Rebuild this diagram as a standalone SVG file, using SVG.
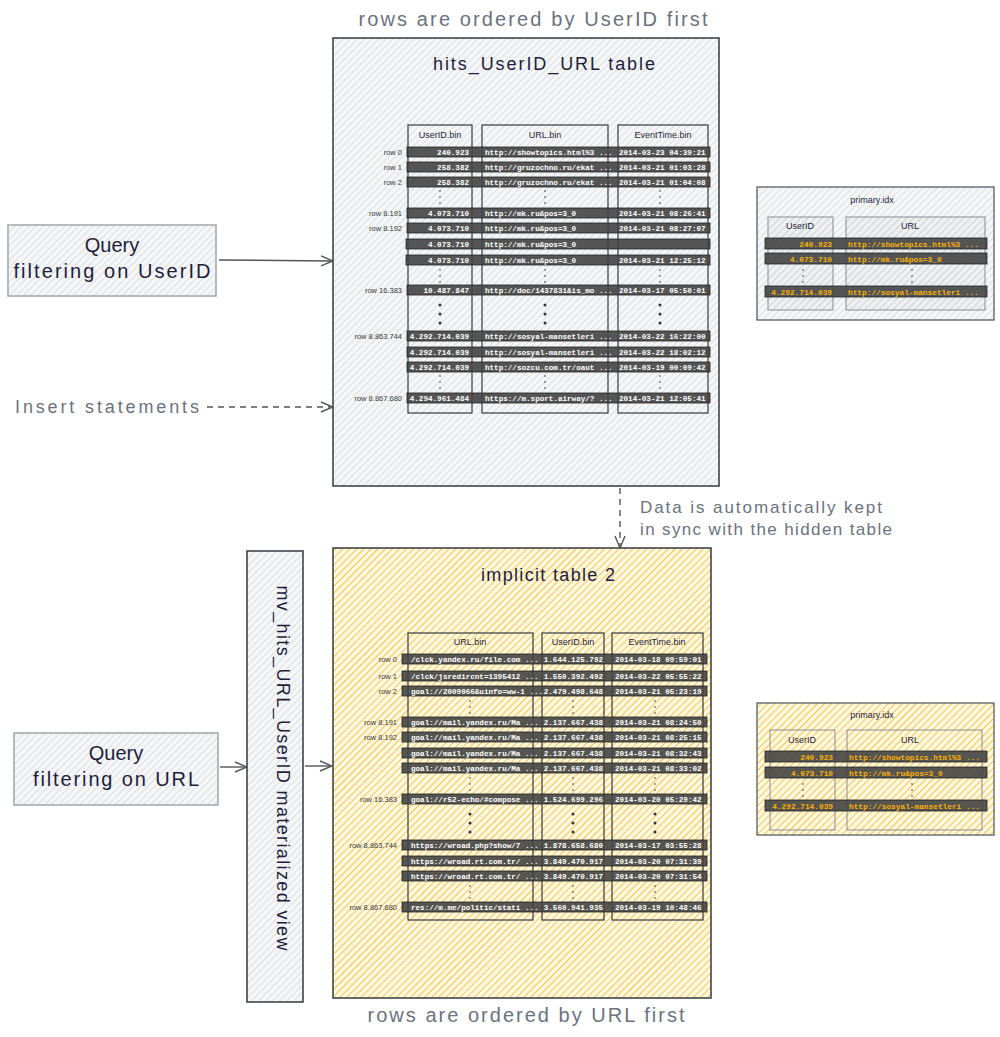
<svg xmlns="http://www.w3.org/2000/svg" width="1000" height="1037" viewBox="0 0 1000 1037">
<defs>
<pattern id="hg" width="5" height="5" patternUnits="userSpaceOnUse" patternTransform="rotate(45)">
<rect width="5" height="5" fill="#f5f6f7"/>
<line x1="0" y1="0" x2="0" y2="5" stroke="#c3c8ce" stroke-width="1"/>
</pattern>
<pattern id="hg2" width="5" height="5" patternUnits="userSpaceOnUse" patternTransform="rotate(45)">
<rect width="5" height="5" fill="#eef0f2"/>
<line x1="0" y1="0" x2="0" y2="5" stroke="#aeb4bb" stroke-width="1"/>
</pattern>
<pattern id="hy" width="5" height="5" patternUnits="userSpaceOnUse" patternTransform="rotate(45)">
<rect width="5" height="5" fill="#fff8e0"/>
<line x1="0" y1="0" x2="0" y2="5" stroke="#f5c23d" stroke-width="1.8"/>
</pattern>
<marker id="ah" markerWidth="14" markerHeight="12" refX="13" refY="6" orient="auto" markerUnits="userSpaceOnUse">
<path d="M1,1 L13,6 L1,11" fill="none" stroke="#555" stroke-width="1.4"/>
</marker>
</defs>
<style>
.hand{font-family:"Liberation Sans","DejaVu Sans",sans-serif}
.navy{fill:#1e1e3c}
.gray{fill:#6b7280}
.box{stroke:#343a40;stroke-width:1.5}
.col{fill:url(#hg);stroke:#343a40;stroke-width:1.2}
.ycol{fill:url(#hy);stroke:#343a40;stroke-width:1.2}
.bar{fill:#444;fill-opacity:0.9;stroke:#222;stroke-width:0.8}
.bt{font-family:"Liberation Mono","DejaVu Sans Mono",monospace;font-size:7.6px;font-weight:bold;fill:#ffffff}
.ot{font-family:"Liberation Mono","DejaVu Sans Mono",monospace;font-size:7.8px;font-weight:bold;fill:#fab005}
.rl{font-family:"Liberation Sans",sans-serif;font-size:7.5px;fill:#343a40}
.hd{font-family:"Liberation Sans",sans-serif;font-size:9px;fill:#1e1e3c}
.dot{fill:#333}
.conn{stroke:#555;stroke-width:1.4;fill:none}
</style>

<text class="hand gray" x="533" y="26" font-size="20" text-anchor="middle" textLength="349">rows are ordered by UserID first</text>
<text class="hand gray" x="526" y="1022" font-size="20" text-anchor="middle" textLength="317">rows are ordered by URL first</text>

<g id="query-userid">
<rect x="8" y="225" width="208" height="71" fill="url(#hg)" stroke="#a0a6ad" stroke-width="1.5"/>
<text class="hand navy" x="112" y="252" font-size="20" text-anchor="middle">Query</text>
<text class="hand navy" x="112" y="278" font-size="20" text-anchor="middle" textLength="197">filtering on UserID</text>
</g>

<g id="insert-label">
<text class="hand gray" x="15" y="413" font-size="18" textLength="184">Insert statements</text>
</g>

<g id="query-url">
<rect x="14" y="733" width="204" height="72" fill="url(#hg)" stroke="#a0a6ad" stroke-width="1.5"/>
<text class="hand navy" x="116" y="760" font-size="20" text-anchor="middle">Query</text>
<text class="hand navy" x="116" y="786" font-size="20" text-anchor="middle" textLength="166">filtering on URL</text>
</g>

<g id="mv">
<rect x="247" y="551" width="56" height="451" fill="url(#hg)" class="box"/>
<text class="hand navy" x="275" y="768" font-size="18" text-anchor="middle" textLength="365" transform="rotate(90 275 768)" dy="-2">mv_hits_URL_UserID materialized view</text>
</g>

<g id="sync-label">
<text class="hand gray" x="640" y="513" font-size="17" textLength="242">Data is automatically kept</text>
<text class="hand gray" x="640" y="535" font-size="17" textLength="252">in sync with the hidden table</text>
</g>

<g id="table-top">
<rect x="333" y="38" width="386" height="448" fill="url(#hg)" class="box"/>
<text class="hand navy" x="544" y="70" font-size="18" text-anchor="middle" textLength="222">hits_UserID_URL table</text>
<rect class="col" x="408" y="125" width="64" height="288"/>
<rect class="col" x="482" y="125" width="126" height="288"/>
<rect class="col" x="618" y="125" width="90" height="288"/>
<text class="hd" x="440" y="138" text-anchor="middle">UserID.bin</text>
<text class="hd" x="545" y="138" text-anchor="middle">URL.bin</text>
<text class="hd" x="663" y="138" text-anchor="middle">EventTime.bin</text>
<g id="top-rows">
<rect class="bar" x="407" y="147" width="303" height="10"/>
<rect class="bar" x="407" y="162" width="303" height="10"/>
<rect class="bar" x="407" y="177" width="303" height="10"/>
<rect class="bar" x="407" y="208" width="303" height="10"/>
<rect class="bar" x="407" y="223" width="303" height="10"/>
<rect class="bar" x="406" y="239" width="304" height="10"/>
<rect class="bar" x="406" y="255" width="304" height="10"/>
<rect class="bar" x="407" y="285" width="303" height="10"/>
<rect class="bar" x="407" y="331" width="303" height="10"/>
<rect class="bar" x="407" y="347" width="303" height="10"/>
<rect class="bar" x="407" y="362" width="303" height="10"/>
<rect class="bar" x="407" y="393" width="303" height="10"/>
<text class="rl" x="402" y="155" text-anchor="end">row 0</text>
<text class="rl" x="402" y="170" text-anchor="end">row 1</text>
<text class="rl" x="402" y="185" text-anchor="end">row 2</text>
<text class="rl" x="402" y="216" text-anchor="end">row 8.191</text>
<text class="rl" x="402" y="231" text-anchor="end">row 8.192</text>
<text class="rl" x="402" y="293" text-anchor="end">row 16.383</text>
<text class="rl" x="402" y="339" text-anchor="end">row 8.863.744</text>
<text class="rl" x="402" y="401" text-anchor="end">row 8.867.680</text>
<g class="bt">
<text x="469" y="155" text-anchor="end">240.923</text>
<text x="469" y="170" text-anchor="end">258.382</text>
<text x="469" y="185" text-anchor="end">258.382</text>
<text x="469" y="216" text-anchor="end">4.073.710</text>
<text x="469" y="231" text-anchor="end">4.073.710</text>
<text x="469" y="247" text-anchor="end">4.073.710</text>
<text x="469" y="263" text-anchor="end">4.073.710</text>
<text x="469" y="293" text-anchor="end">10.487.847</text>
<text x="469" y="339" text-anchor="end">4.292.714.039</text>
<text x="469" y="355" text-anchor="end">4.292.714.039</text>
<text x="469" y="370" text-anchor="end">4.292.714.039</text>
<text x="469" y="401" text-anchor="end">4.294.961.484</text>
<text x="485" y="155">http://showtopics.html%3 ...</text>
<text x="485" y="170">http://gruzochno.ru/ekat ...</text>
<text x="485" y="185">http://gruzochno.ru/ekat ...</text>
<text x="485" y="216">http://mk.ru&amp;pos=3_0</text>
<text x="485" y="231">http://mk.ru&amp;pos=3_0</text>
<text x="485" y="247">http://mk.ru&amp;pos=3_0</text>
<text x="485" y="263">http://mk.ru&amp;pos=3_0</text>
<text x="485" y="293">http://doc/1437831&amp;is_mo ...</text>
<text x="485" y="339">http://sosyal-mansetleri ...</text>
<text x="485" y="355">http://sosyal-mansetleri ...</text>
<text x="485" y="370">http://sozcu.com.tr/oaut ...</text>
<text x="485" y="401">https://m.sport.airway/? ...</text>
<text x="619" y="155">2014-03-23 04:39:21</text>
<text x="619" y="170">2014-03-21 01:03:28</text>
<text x="619" y="185">2014-03-21 01:04:08</text>
<text x="619" y="216">2014-03-21 08:26:41</text>
<text x="619" y="231">2014-03-21 08:27:07</text>
<text x="619" y="263">2014-03-21 12:25:12</text>
<text x="619" y="293">2014-03-17 05:50:01</text>
<text x="619" y="339">2014-03-22 16:22:00</text>
<text x="619" y="355">2014-03-22 18:02:12</text>
<text x="619" y="370">2014-03-19 00:09:42</text>
<text x="619" y="401">2014-03-21 12:05:41</text>
</g>
<g class="dot">
<circle cx="440" cy="191" r="0.8"/><circle cx="440" cy="197" r="0.8"/><circle cx="440" cy="203" r="0.8"/>
<circle cx="545" cy="191" r="0.8"/><circle cx="545" cy="197" r="0.8"/><circle cx="545" cy="203" r="0.8"/>
<circle cx="660" cy="191" r="0.8"/><circle cx="660" cy="197" r="0.8"/><circle cx="660" cy="203" r="0.8"/>
<circle cx="440" cy="270" r="0.8"/><circle cx="440" cy="276" r="0.8"/><circle cx="440" cy="282" r="0.8"/>
<circle cx="545" cy="270" r="0.8"/><circle cx="545" cy="276" r="0.8"/><circle cx="545" cy="282" r="0.8"/>
<circle cx="660" cy="270" r="0.8"/><circle cx="660" cy="276" r="0.8"/><circle cx="660" cy="282" r="0.8"/>
<circle cx="440" cy="305" r="1.5"/><circle cx="440" cy="314" r="1.5"/><circle cx="440" cy="323" r="1.5"/>
<circle cx="545" cy="305" r="1.5"/><circle cx="545" cy="314" r="1.5"/><circle cx="545" cy="323" r="1.5"/>
<circle cx="660" cy="305" r="1.5"/><circle cx="660" cy="314" r="1.5"/><circle cx="660" cy="323" r="1.5"/>
<circle cx="440" cy="376" r="0.8"/><circle cx="440" cy="382" r="0.8"/><circle cx="440" cy="388" r="0.8"/>
<circle cx="545" cy="376" r="0.8"/><circle cx="545" cy="382" r="0.8"/><circle cx="545" cy="388" r="0.8"/>
<circle cx="660" cy="376" r="0.8"/><circle cx="660" cy="382" r="0.8"/><circle cx="660" cy="388" r="0.8"/>
</g>
</g>
</g>

<g id="primary-top">
<rect x="757" y="187" width="237" height="133" fill="url(#hg)" stroke="#495057" stroke-width="1.2"/>
<text class="hd" x="872" y="203" text-anchor="middle">primary.idx</text>
<rect x="768" y="217" width="65" height="93" fill="url(#hg2)" stroke="#868e96" stroke-width="1"/>
<rect x="846" y="217" width="139" height="93" fill="url(#hg2)" stroke="#868e96" stroke-width="1"/>
<text class="hd" x="800" y="229" text-anchor="middle">UserID</text>
<text class="hd" x="910" y="229" text-anchor="middle">URL</text>
<rect class="bar" x="765" y="238" width="222" height="11"/>
<rect class="bar" x="765" y="253" width="222" height="11"/>
<rect class="bar" x="765" y="286" width="222" height="11"/>
<g class="ot">
<text x="832" y="247" text-anchor="end">240.923</text>
<text x="832" y="262" text-anchor="end">4.073.710</text>
<text x="832" y="295" text-anchor="end">4.292.714.039</text>
<text x="848" y="247">http://showtopics.html%3 ...</text>
<text x="848" y="262">http://mk.ru&amp;pos=3_0</text>
<text x="848" y="295">http://sosyal-mansetleri ...</text>
</g>
<g class="dot">
<circle cx="803" cy="270" r="0.8"/><circle cx="803" cy="276" r="0.8"/><circle cx="803" cy="282" r="0.8"/>
<circle cx="912" cy="270" r="0.8"/><circle cx="912" cy="276" r="0.8"/><circle cx="912" cy="282" r="0.8"/>
</g>
</g>

<g id="table-bottom">
<rect x="333" y="548" width="378" height="450" fill="url(#hy)" class="box"/>
<text class="hand navy" x="548" y="581" font-size="18" text-anchor="middle" textLength="134">implicit table 2</text>
<rect class="ycol" x="408" y="633" width="125" height="287"/>
<rect class="ycol" x="542" y="633" width="62" height="287"/>
<rect class="ycol" x="612" y="633" width="91" height="287"/>
<text class="hd" x="470" y="645" text-anchor="middle">URL.bin</text>
<text class="hd" x="573" y="645" text-anchor="middle">UserID.bin</text>
<text class="hd" x="657" y="645" text-anchor="middle">EventTime.bin</text>
<g id="bottom-rows">
<rect class="bar" x="402" y="654" width="305" height="10"/>
<rect class="bar" x="402" y="671" width="305" height="10"/>
<rect class="bar" x="402" y="686" width="305" height="10"/>
<rect class="bar" x="402" y="717" width="305" height="10"/>
<rect class="bar" x="402" y="732" width="305" height="10"/>
<rect class="bar" x="402" y="748" width="305" height="10"/>
<rect class="bar" x="402" y="763" width="305" height="10"/>
<rect class="bar" x="402" y="794" width="305" height="10"/>
<rect class="bar" x="402" y="840" width="305" height="10"/>
<rect class="bar" x="402" y="856" width="305" height="10"/>
<rect class="bar" x="402" y="871" width="305" height="10"/>
<rect class="bar" x="402" y="902" width="305" height="10"/>
<text class="rl" x="397" y="662" text-anchor="end">row 0</text>
<text class="rl" x="397" y="679" text-anchor="end">row 1</text>
<text class="rl" x="397" y="694" text-anchor="end">row 2</text>
<text class="rl" x="397" y="725" text-anchor="end">row 8.191</text>
<text class="rl" x="397" y="740" text-anchor="end">row 8.192</text>
<text class="rl" x="397" y="802" text-anchor="end">row 16.383</text>
<text class="rl" x="397" y="848" text-anchor="end">row 8.863.744</text>
<text class="rl" x="397" y="910" text-anchor="end">row 8.867.680</text>
<g class="bt">
<text x="411" y="662">/clck.yandex.ru/file.com ...</text>
<text x="411" y="679">/clck/jsredircnt=1395412 ...</text>
<text x="411" y="694">goal://2009066&amp;uinfo=ww-1 ...</text>
<text x="411" y="725">goal://mail.yandex.ru/Ma ...</text>
<text x="411" y="740">goal://mail.yandex.ru/Ma ...</text>
<text x="411" y="756">goal://mail.yandex.ru/Ma ...</text>
<text x="411" y="771">goal://mail.yandex.ru/Ma ...</text>
<text x="411" y="802">goal://r52-echo/#compose ...</text>
<text x="411" y="848">https://wroad.php?show/7 ...</text>
<text x="411" y="864">https://wroad.rt.com.tr/ ...</text>
<text x="411" y="879">https://wroad.rt.com.tr/ ...</text>
<text x="411" y="910">res://m.me/politic/stati ...</text>
<text x="603" y="662" text-anchor="end">1.644.125.792</text>
<text x="603" y="679" text-anchor="end">1.550.392.492</text>
<text x="603" y="694" text-anchor="end">2.479.498.648</text>
<text x="603" y="725" text-anchor="end">2.137.667.438</text>
<text x="603" y="740" text-anchor="end">2.137.667.438</text>
<text x="603" y="756" text-anchor="end">2.137.667.438</text>
<text x="603" y="771" text-anchor="end">2.137.667.438</text>
<text x="603" y="802" text-anchor="end">1.524.699.296</text>
<text x="603" y="848" text-anchor="end">1.878.658.680</text>
<text x="603" y="864" text-anchor="end">3.849.470.917</text>
<text x="603" y="879" text-anchor="end">3.849.470.917</text>
<text x="603" y="910" text-anchor="end">3.560.941.935</text>
<text x="615" y="662">2014-03-18 09:59:01</text>
<text x="615" y="679">2014-03-22 05:55:22</text>
<text x="615" y="694">2014-03-21 05:23:19</text>
<text x="615" y="725">2014-03-21 08:24:50</text>
<text x="615" y="740">2014-03-21 08:25:15</text>
<text x="615" y="756">2014-03-21 08:32:43</text>
<text x="615" y="771">2014-03-21 08:33:02</text>
<text x="615" y="802">2014-03-20 05:29:42</text>
<text x="615" y="848">2014-03-17 03:55:28</text>
<text x="615" y="864">2014-03-20 07:31:39</text>
<text x="615" y="879">2014-03-20 07:31:54</text>
<text x="615" y="910">2014-03-19 10:48:46</text>
</g>
<g class="dot">
<circle cx="470" cy="701" r="0.8"/><circle cx="470" cy="707" r="0.8"/><circle cx="470" cy="713" r="0.8"/>
<circle cx="573" cy="701" r="0.8"/><circle cx="573" cy="707" r="0.8"/><circle cx="573" cy="713" r="0.8"/>
<circle cx="655" cy="701" r="0.8"/><circle cx="655" cy="707" r="0.8"/><circle cx="655" cy="713" r="0.8"/>
<circle cx="470" cy="778" r="0.8"/><circle cx="470" cy="784" r="0.8"/><circle cx="470" cy="790" r="0.8"/>
<circle cx="573" cy="778" r="0.8"/><circle cx="573" cy="784" r="0.8"/><circle cx="573" cy="790" r="0.8"/>
<circle cx="655" cy="778" r="0.8"/><circle cx="655" cy="784" r="0.8"/><circle cx="655" cy="790" r="0.8"/>
<circle cx="470" cy="814" r="1.5"/><circle cx="470" cy="823" r="1.5"/><circle cx="470" cy="832" r="1.5"/>
<circle cx="573" cy="814" r="1.5"/><circle cx="573" cy="823" r="1.5"/><circle cx="573" cy="832" r="1.5"/>
<circle cx="655" cy="814" r="1.5"/><circle cx="655" cy="823" r="1.5"/><circle cx="655" cy="832" r="1.5"/>
<circle cx="470" cy="886" r="0.8"/><circle cx="470" cy="892" r="0.8"/><circle cx="470" cy="898" r="0.8"/>
<circle cx="573" cy="886" r="0.8"/><circle cx="573" cy="892" r="0.8"/><circle cx="573" cy="898" r="0.8"/>
<circle cx="655" cy="886" r="0.8"/><circle cx="655" cy="892" r="0.8"/><circle cx="655" cy="898" r="0.8"/>
</g>
</g>
</g>

<g id="primary-bottom">
<rect x="757" y="703" width="237" height="132" fill="url(#hy)" stroke="#495057" stroke-width="1.2"/>
<text class="hd" x="872" y="718" text-anchor="middle">primary.idx</text>
<rect x="770" y="730" width="65" height="100" fill="url(#hy)" stroke="#868e96" stroke-width="1"/>
<rect x="847" y="730" width="135" height="100" fill="url(#hy)" stroke="#868e96" stroke-width="1"/>
<text class="hd" x="802" y="743" text-anchor="middle">UserID</text>
<text class="hd" x="910" y="743" text-anchor="middle">URL</text>
<rect class="bar" x="765" y="751" width="222" height="11"/>
<rect class="bar" x="765" y="767" width="222" height="11"/>
<rect class="bar" x="765" y="800" width="222" height="11"/>
<g class="ot">
<text x="833" y="760" text-anchor="end">240.923</text>
<text x="833" y="776" text-anchor="end">4.073.710</text>
<text x="833" y="809" text-anchor="end">4.292.714.039</text>
<text x="849" y="760">http://showtopics.html%3 ...</text>
<text x="849" y="776">http://mk.ru&amp;pos=3_0</text>
<text x="849" y="809">http://sosyal-mansetleri ...</text>
</g>
<g class="dot">
<circle cx="803" cy="784" r="0.8"/><circle cx="803" cy="790" r="0.8"/><circle cx="803" cy="796" r="0.8"/>
<circle cx="912" cy="784" r="0.8"/><circle cx="912" cy="790" r="0.8"/><circle cx="912" cy="796" r="0.8"/>
</g>
</g>

<g id="connectors">
<line class="conn" x1="219" y1="260" x2="333" y2="261" marker-end="url(#ah)"/>
<line class="conn" x1="207" y1="407" x2="333" y2="407" stroke-dasharray="6 5" marker-end="url(#ah)"/>
<line class="conn" x1="620" y1="488" x2="620" y2="548" stroke-dasharray="6 5" marker-end="url(#ah)"/>
<line class="conn" x1="220" y1="767" x2="247" y2="767" marker-end="url(#ah)"/>
<line class="conn" x1="305" y1="766" x2="332" y2="766" marker-end="url(#ah)"/>
</g>
</svg>
